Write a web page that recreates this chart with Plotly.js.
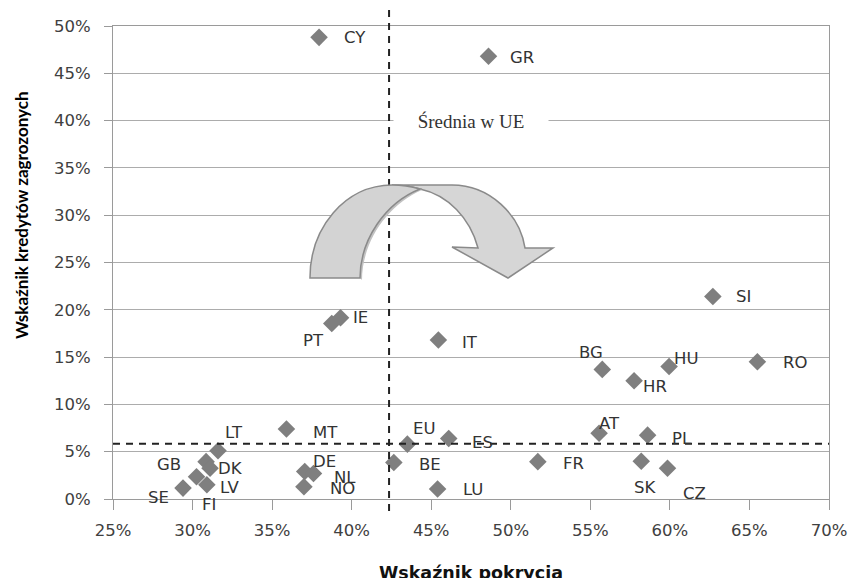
<!DOCTYPE html>
<html>
<head>
<meta charset="utf-8">
<script src="https://cdn.plot.ly/plotly-3.0.1.min.js"></script>
<style>html,body{margin:0;padding:0;background:#fff;}#chart{width:851px;height:578px;}</style>
</head>
<body>
<div id="chart"></div>
<script>
// ---- data (percent values) ----
const countries = ['CY','GR','IE','PT','IT','SI','RO','HU','BG','HR','LT','MT','GB','DK','SE','LV','FI','DE','NL','NO','BE','EU','ES','LU','FR','AT','PL','SK','CZ'];
const coverage  = [37.95,48.6,39.3,38.75,45.45,62.7,65.5,59.95,55.75,57.75,31.6,35.9,30.85,31.1,29.4,30.9,30.25,37.05,37.6,37.0,42.65,43.5,46.1,45.4,51.7,55.55,58.6,58.2,59.85];
const npl       = [48.8,46.8,19.15,18.55,16.8,21.4,14.5,14.0,13.7,12.5,5.1,7.4,3.95,3.25,1.15,1.5,2.35,2.9,2.7,1.3,3.85,5.8,6.4,1.05,3.95,6.95,6.75,4.0,3.25];
const meanCoverage = 42.35;   // średnia w UE – wskaźnik pokrycia
const meanNPL = 5.85;         // średnia w UE – wskaźnik kredytów zagrożonych
const xTickVals = [25,30,35,40,45,50,55,60,65,70];
const yTickVals = [0,5,10,15,20,25,30,35,40,45,50];

// label offsets in pixels (styling only)
const labelDx = [36,33,20,-18,32,31,38,17,-11,21,16,39,-37,20,-25,23,12,20,32,39,36,17,34,35,36,10,34,4,27];
const labelDy = [0,1,0,17,2,0,1,-8,-17,6,-18,3,3,0,9,3,28,-10,4,2,2,-16,4,0,2,-10,3,26,25];

const L = 113, T = 26, W = 716, H = 473;
function pp(x, y){ return ((x - L) / W).toFixed(4) + ',' + ((T + H - y) / H).toFixed(4); }

const tickFont = {family: 'DejaVu Sans, sans-serif', size: 16.5, color: '#404040'};
const labelFont = {family: 'DejaVu Sans, sans-serif', size: 16.5, color: '#333333'};

const trace = {
  type: 'scatter', mode: 'markers',
  x: coverage, y: npl,
  marker: {symbol: 'diamond', size: 13.5, color: '#7f7f7f', line: {width: 0}},
  hoverinfo: 'text', text: countries, cliponaxis: false
};

const annotations = countries.map((c, i) => ({
  x: coverage[i], y: npl[i], xref: 'x', yref: 'y', text: c, showarrow: false,
  xshift: labelDx[i], yshift: -labelDy[i], font: labelFont,
  xanchor: 'center', yanchor: 'middle'
}));

annotations.push({
  xref: 'paper', yref: 'y', x: (470.5 - L) / W, y: 40, text: 'Średnia w UE', showarrow: false,
  font: {family: 'Liberation Serif, serif', size: 19, color: '#333333'},
  bgcolor: '#ffffff', width: 152, height: 20, xanchor: 'center', yanchor: 'middle'
});
annotations.push({
  xref: 'paper', yref: 'paper', x: (21 - L) / W, y: (T + H - 215) / H,
  text: 'Wskaźnik kredytów zagrozonych', textangle: -90, showarrow: false,
  font: {family: 'Liberation Sans Narrow, Lato, sans-serif', size: 17, color: '#000000', weight: 'bold'},
  xanchor: 'center', yanchor: 'middle'
});
annotations.push({
  xref: 'paper', yref: 'paper', x: 0.5, y: (T + H - 573) / H,
  text: 'Wskaźnik pokrycia', showarrow: false,
  font: {family: 'DejaVu Sans, sans-serif', size: 17.5, color: '#111111', weight: 'bold'},
  xanchor: 'center', yanchor: 'middle'
});

const leftPart = 'M' + pp(310,278) + ' C' + pp(310,228) + ' ' + pp(345,185) + ' ' + pp(392,185) +
  ' C' + pp(403,185) + ' ' + pp(413,187) + ' ' + pp(420,189) +
  ' C' + pp(385,203) + ' ' + pp(360,240) + ' ' + pp(360,278) + ' Z';
const rightPart = 'M' + pp(392,185) + ' L' + pp(452,185) +
  ' C' + pp(490,185) + ' ' + pp(520,215) + ' ' + pp(525,248) +
  ' L' + pp(553,248) + ' L' + pp(508,278) + ' L' + pp(452,247) + ' L' + pp(478,248) +
  ' C' + pp(470,218) + ' ' + pp(448,195) + ' ' + pp(420,189) +
  ' C' + pp(413,187) + ' ' + pp(403,185) + ' ' + pp(392,185) + ' Z';
const leftShadow = 'M' + pp(362,280) + ' C' + pp(362,242) + ' ' + pp(387,205) + ' ' + pp(422,190) + ' L' + pp(420,189) +
  ' C' + pp(385,203) + ' ' + pp(360,240) + ' ' + pp(360,278) + ' Z';

const shapes = [
  {type: 'line', xref: 'x', yref: 'paper', x0: meanCoverage, x1: meanCoverage, y0: (T + H - 511) / H, y1: (T + H - 9) / H,
   line: {color: '#222222', width: 2, dash: '7px,6px'}, layer: 'above'},
  {type: 'line', xref: 'x', yref: 'y', x0: 25, x1: 70, y0: meanNPL, y1: meanNPL,
   line: {color: '#222222', width: 2, dash: '7px,6px'}, layer: 'above'},
  {type: 'path', xref: 'paper', yref: 'paper', path: rightPart, fillcolor: '#d6d6d6', line: {color: '#8a8a8a', width: 1.5}, layer: 'above'},
  {type: 'path', xref: 'paper', yref: 'paper', path: leftShadow, fillcolor: '#c2c2c2', line: {width: 0}, layer: 'above'},
  {type: 'path', xref: 'paper', yref: 'paper', path: leftPart, fillcolor: '#d3d3d3', line: {color: '#8a8a8a', width: 1.5}, layer: 'above'}
];

const layout = {
  width: 851, height: 578,
  margin: {l: L, r: 851 - L - W, t: T, b: 578 - T - H},
  paper_bgcolor: '#ffffff', plot_bgcolor: '#ffffff',
  showlegend: false,
  xaxis: {
    range: [25, 70], tickvals: xTickVals, ticktext: xTickVals.map(v => v + '%'),
    showgrid: false, zeroline: false, showline: true, linecolor: '#9a9a9a', linewidth: 1, mirror: true,
    ticks: 'outside', ticklen: 10, tickcolor: '#9a9a9a', tickfont: tickFont, ticklabelstandoff: 6
  },
  yaxis: {
    range: [0, 50], tickvals: yTickVals, ticktext: yTickVals.map(v => v + '%'),
    showgrid: true, gridcolor: '#acacac', gridwidth: 1, zeroline: false,
    showline: true, linecolor: '#9a9a9a', linewidth: 1, mirror: true,
    ticks: 'outside', ticklen: 8, tickcolor: '#9a9a9a', tickfont: tickFont, ticklabelstandoff: 10
  },
  annotations: annotations,
  shapes: shapes
};

Plotly.newPlot('chart', [trace], layout, {displayModeBar: false, staticPlot: true});
</script>
</body>
</html>
